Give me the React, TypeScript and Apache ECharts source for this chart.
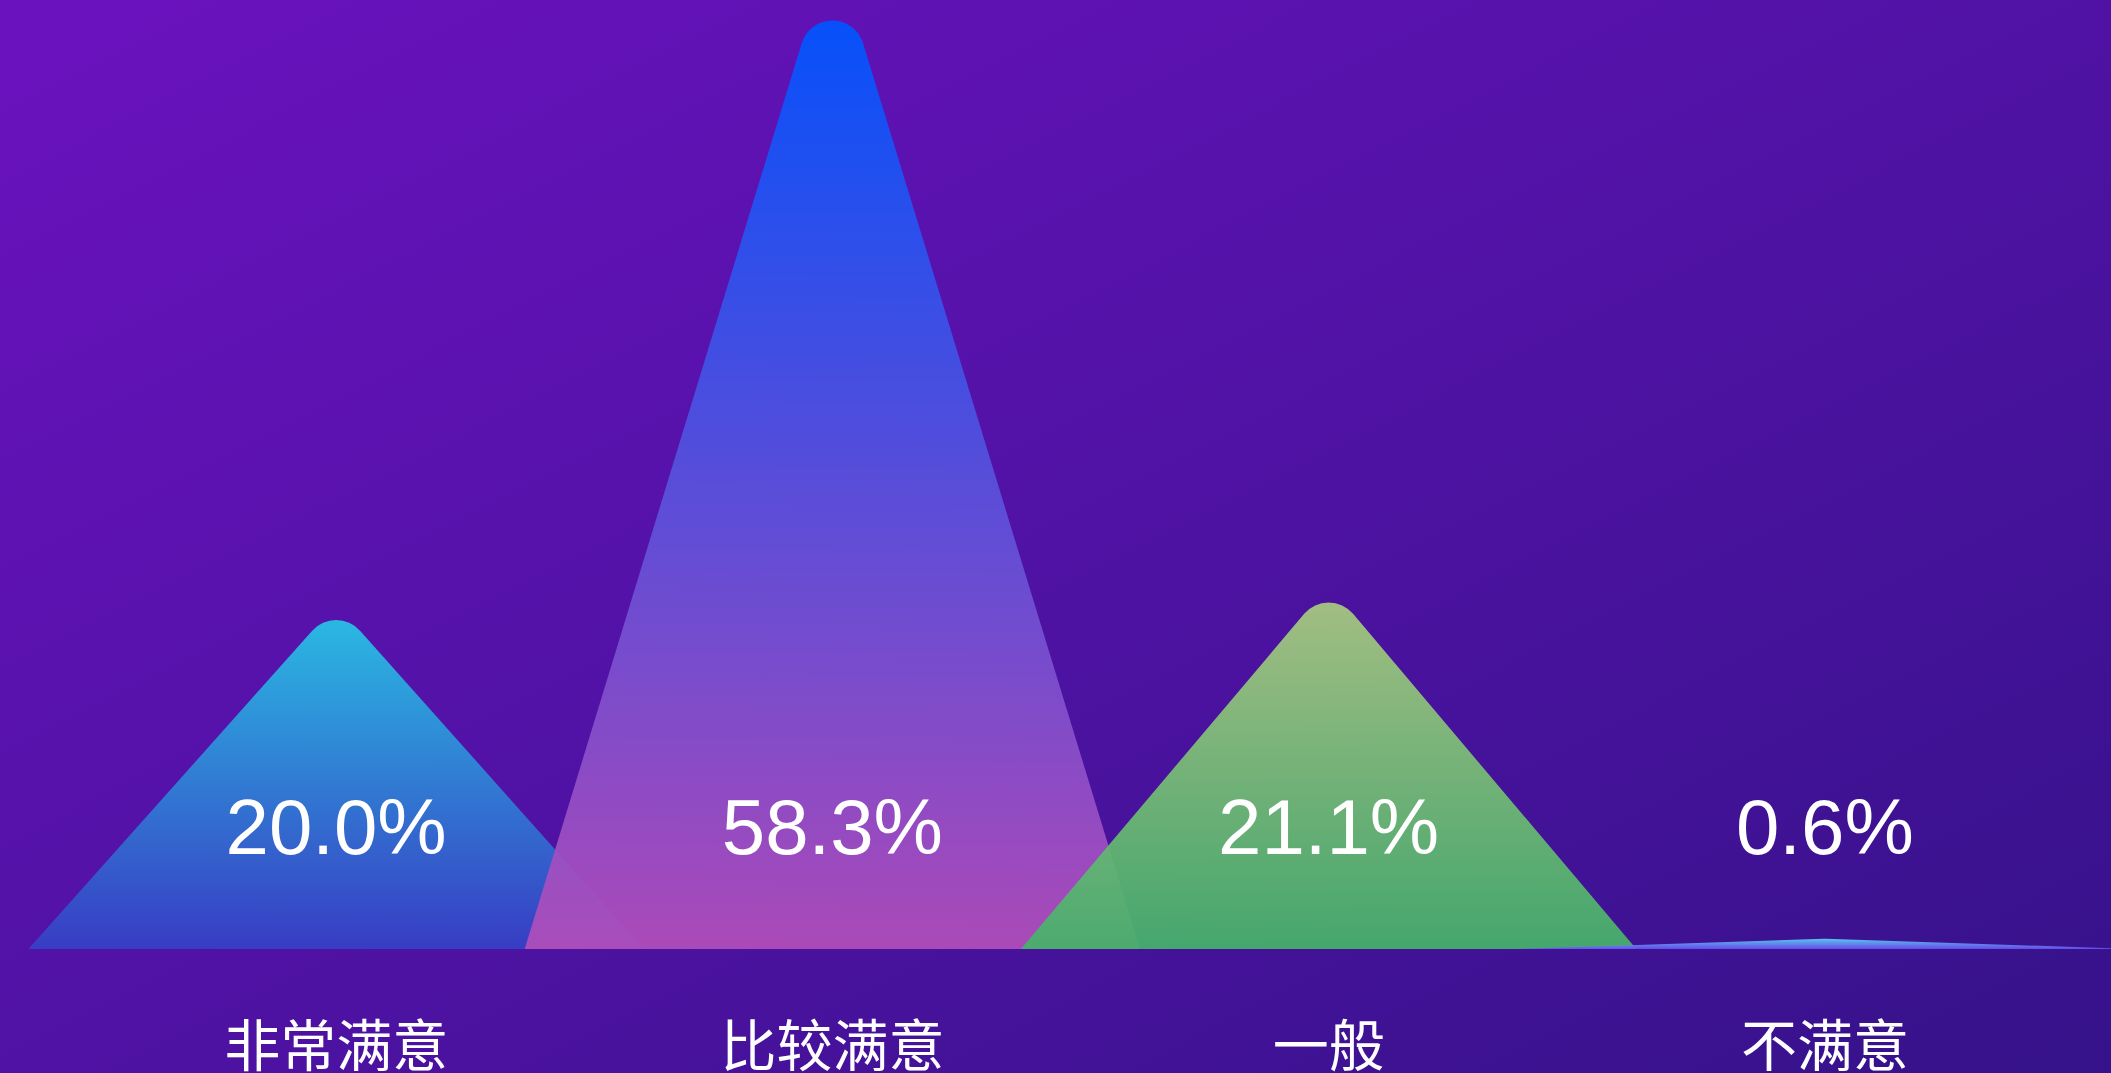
import React, { useEffect, useRef } from "react";
import * as echarts from "echarts";

const categories = ["非常满意", "比较满意", "一般", "不满意"];
const percentValues = [20.0, 58.3, 21.1, 0.6];
const topColors = ["#27C4E6", "#0055FF", "#A8CA80", "#5CD4F2"];
const bottomColors = ["#3640C6", "#B24EBA", "#45B26A", "#6A4EF2"];

const W = 2111;
const H = 1073;

export default function App() {
  const ref = useRef<HTMLDivElement>(null);

  useEffect(() => {
    if (!ref.current) return;
    const chart = echarts.init(ref.current, null, { renderer: "svg" });

    const widthRatio = 1.24;
    const capR = 32;

    const mountainItem = (params: any, api: any) => {
      const idx = api.value(0);
      const v = api.value(1);
      const base = api.coord([idx, 0]);
      const top = api.coord([idx, v]);
      const bw = api.size([1, 0])[0];
      const halfW = (bw * widthRatio) / 2;
      const cx = base[0];
      const y0 = base[1];
      const ay = top[1];
      const hh = Math.max(y0 - ay, 1);
      const alpha = Math.atan(halfW / hh);
      const L = Math.hypot(halfW, hh);
      const r = Math.min(capR, L * Math.tan(alpha) * 0.5);
      const t = r / Math.tan(alpha);
      const ux = halfW / L;
      const uy = hh / L;
      const lx = cx - t * ux;
      const ly = ay + t * uy;
      const rx = cx + t * ux;
      const d = `M${cx - halfW},${y0} L${lx},${ly} A${r},${r} 0 0 1 ${rx},${ly} L${cx + halfW},${y0} Z`;
      return {
        type: "path",
        shape: { pathData: d },
        style: {
          fill: new echarts.graphic.LinearGradient(0, 0, 0, 1, [
            { offset: 0, color: topColors[idx] },
            { offset: 1, color: bottomColors[idx] },
          ]),
          opacity: 0.93,
        },
      };
    };

    const labelItem = (params: any, api: any) => {
      const idx = api.value(0);
      const v = api.value(1);
      const base = api.coord([idx, 0]);
      return {
        type: "text",
        style: {
          text: v.toFixed(1) + "%",
          x: base[0],
          y: base[1] - 122,
          align: "center",
          verticalAlign: "middle",
          fill: "#ffffff",
          font: '78px "Liberation Sans", Arial, sans-serif',
        },
      };
    };

    const seriesData = percentValues.map((v, i) => [i, v]);

    chart.setOption({
      animation: false,
      backgroundColor: new echarts.graphic.LinearGradient(0, 0, 1, 1, [
        { offset: 0, color: "#6B12BF" },
        { offset: 1, color: "#35128A" },
      ]),
      grid: { left: 88, right: 38, top: 0, bottom: 124 },
      xAxis: {
        type: "category",
        data: categories,
        axisLine: { show: false },
        axisTick: { show: false },
        axisLabel: {
          color: "#ffffff",
          fontSize: 56,
          margin: 64,
          fontFamily: '"Noto Sans CJK SC", sans-serif',
        },
      },
      yAxis: {
        type: "value",
        min: 0,
        max: 55,
        show: false,
        splitLine: { show: false },
      },
      series: [
        {
          type: "custom",
          clip: false,
          renderItem: mountainItem,
          data: seriesData,
          encode: { x: 0, y: 1 },
          z: 2,
        },
        {
          type: "custom",
          clip: false,
          renderItem: labelItem,
          data: seriesData,
          encode: { x: 0, y: 1 },
          z: 5,
        },
      ],
    });

    return () => chart.dispose();
  }, []);

  return (
    <div
      ref={ref}
      style={{ position: "fixed", left: 0, top: 0, width: W, height: H }}
    />
  );
}
